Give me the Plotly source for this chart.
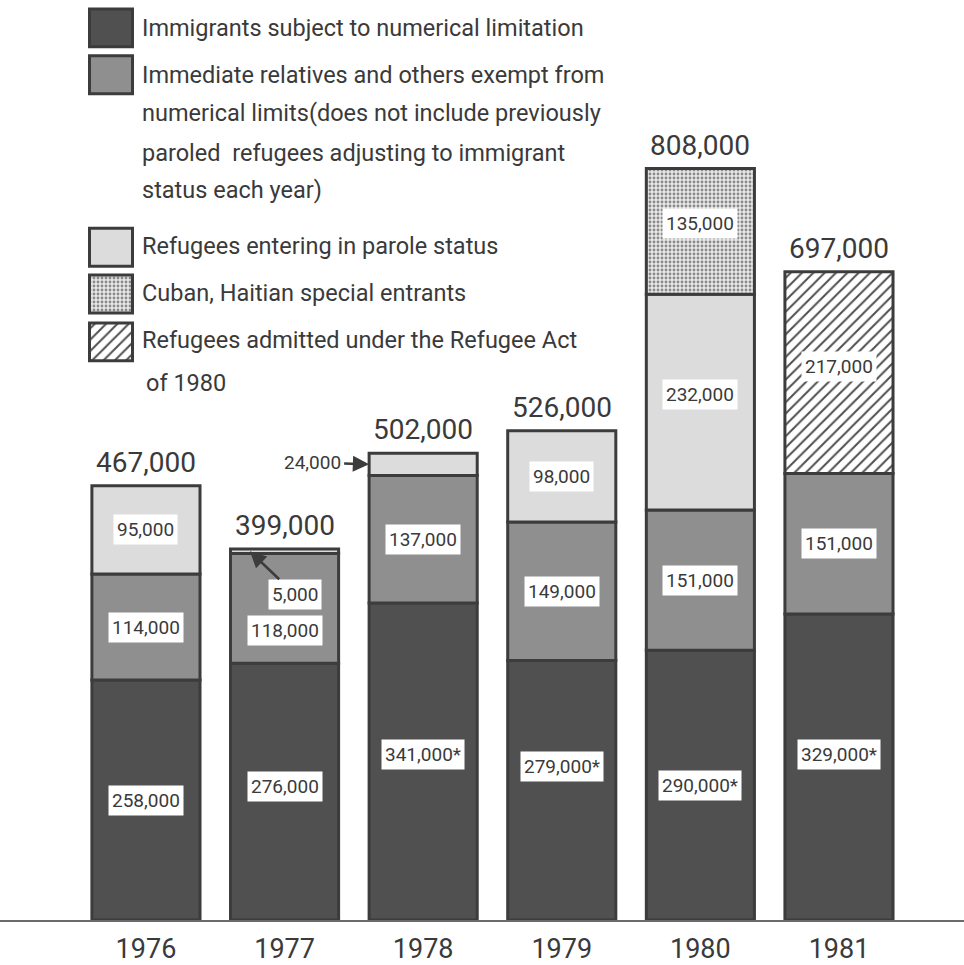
import numpy as np
import plotly.graph_objects as go

# ---- data (persons admitted per fiscal year) ----
years = ["1976", "1977", "1978", "1979", "1980", "1981"]
numerical_limit = [258000, 276000, 341000, 279000, 290000, 329000]
immediate_relatives = [114000, 118000, 137000, 149000, 151000, 151000]
parole_refugees = [95000, 5000, 24000, 98000, 232000, None]
cuban_haitian = [None, None, None, None, 135000, None]
refugee_act = [None, None, None, None, None, 217000]
footnoted = [False, False, True, True, True, True]  # limitation figures marked with *

legend_lines = [
    ["Immigrants subject to numerical limitation"],
    ["Immediate relatives and others exempt from",
     "numerical limits(does not include previously",
     "paroled  refugees adjusting to immigrant",
     "status each year)"],
    ["Refugees entering in parole status"],
    ["Cuban, Haitian special entrants"],
    ["Refugees admitted under the Refugee Act", "of 1980"],
]

# ---- styling ----
FONT = "Liberation Sans Narrow, Roboto, Liberation Sans, Arial"
TXT = "#3a3a3a"
EDGE = "#3c3c3c"
series = [
    dict(vals=numerical_limit, color="#505050", pattern=None),
    dict(vals=immediate_relatives, color="#8f8f8f", pattern=None),
    dict(vals=parole_refugees, color="#dcdcdc", pattern=None),
    dict(vals=cuban_haitian, color="#e4e4e4",
         pattern=dict(shape=".", size=4, solidity=0.4, fgcolor="#8a8a8a", bgcolor="#e8e8e8")),
    dict(vals=refugee_act, color="#ffffff",
         pattern=dict(shape="/", size=8, solidity=0.25, fgcolor="#505050", bgcolor="#ffffff")),
]

# vertical nudges (px) for individual value boxes, and arrow call-outs for thin segments
label_nudge = {(1, 1): -22, (0, 3): 24, (0, 5): 13, (0, 2): 7, (0, 1): 5, (2, 4): 8, (3, 4): 8, (4, 5): 6}
callouts = {
    (2, 1): dict(dx=-0.25, ax=45, ay=43, boxed=True),
    (2, 2): dict(dx=-0.39, ax=-57, ay=-2, boxed=False),
}

x = np.arange(len(years))
fig = go.Figure()
annotations = []
base = np.zeros(len(years))
for si, s in enumerate(series):
    v = np.array([np.nan if a is None else a for a in s["vals"]], dtype=float)
    marker = dict(color=s["color"], line=dict(color=EDGE, width=3))
    if s["pattern"]:
        marker["pattern"] = dict(fillmode="replace", **s["pattern"])
    fig.add_trace(go.Bar(x=x, y=v, base=base.copy(), width=0.78, marker=marker,
                         showlegend=False, hoverinfo="skip"))
    for i, val in enumerate(v):
        if np.isnan(val):
            continue
        txt = f"{int(val):,}" + ("*" if si == 0 and footnoted[i] else "")
        if (si, i) in callouts:
            c = callouts[(si, i)]
            annotations.append(dict(
                x=i + c["dx"], y=base[i] + val / 2, xref="x", yref="y", text=txt,
                showarrow=True, ax=c["ax"], ay=c["ay"], arrowhead=2, arrowsize=1.3,
                arrowwidth=2.5, arrowcolor=EDGE, standoff=0,
                bgcolor="white" if c["boxed"] else "rgba(0,0,0,0)", borderpad=3,
                font=dict(family=FONT, size=19, color=TXT)))
        else:
            annotations.append(dict(
                x=i, y=base[i] + val / 2, xref="x", yref="y", text=txt, showarrow=False,
                bgcolor="white", borderpad=3, yshift=label_nudge.get((si, i), 0),
                font=dict(family=FONT, size=19, color=TXT)))
    base = base + np.nan_to_num(v)

# totals above the bars
for i, tot in enumerate(base):
    annotations.append(dict(x=i, y=tot, xref="x", yref="y", text=f"{int(tot):,}",
                            showarrow=False, yanchor="bottom", yshift=5,
                            font=dict(family=FONT, size=28, color=TXT)))

# ---- key: swatches drawn on an overlay axis measured in pixels ----
sw_top = [9, 56, 229, 276, 324]
sw_h = 38
line_y = [[28], [75, 113, 153, 191], [247], [294], [341, 384]]
line_x = [[140], [140, 140, 140, 140], [140], [140], [140, 144]]
for k, s in enumerate(series):
    marker = dict(color=s["color"], line=dict(color=EDGE, width=3))
    if s["pattern"]:
        marker["pattern"] = dict(fillmode="replace", **s["pattern"])
    fig.add_trace(go.Bar(x=[111], y=[sw_h], base=[sw_top[k]], width=43, marker=marker,
                         xaxis="x2", yaxis="y2", showlegend=False, hoverinfo="skip"))
    for t, yy, xx in zip(legend_lines[k], line_y[k], line_x[k]):
        annotations.append(dict(x=xx, y=yy, xref="x2", yref="y2", text=t, showarrow=False,
                                xanchor="left", yanchor="middle",
                                font=dict(family=FONT, size=23.5, color=TXT)))

fig.update_layout(
    width=964, height=965,
    margin=dict(l=0, r=0, t=0, b=42, pad=0),
    paper_bgcolor="white", plot_bgcolor="white",
    barmode="overlay",
    annotations=annotations,
    xaxis=dict(range=[-1.053, 5.902], tickvals=list(x), ticktext=years,
               showgrid=False, zeroline=False, showline=True, linecolor="#6a6a6a",
               linewidth=2, ticks="", ticklabelstandoff=4,
               tickfont=dict(family=FONT, size=27, color=TXT), fixedrange=True),
    yaxis=dict(range=[0, 989300], visible=False, showgrid=False, zeroline=False,
               fixedrange=True),
    xaxis2=dict(range=[0, 964], domain=[0, 1], anchor="y2", overlaying="x",
                visible=False, fixedrange=True),
    yaxis2=dict(range=[923, 0], domain=[0, 1], anchor="x2", overlaying="y",
                visible=False, fixedrange=True),
)

fig.write_html("out.html")
